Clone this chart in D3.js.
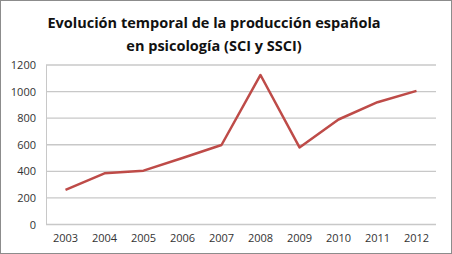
<!DOCTYPE html>
<html>
<head>
<meta charset="utf-8">
<script src="https://cdn.jsdelivr.net/npm/d3@7"></script>
<style>
  body { margin: 0; background: #fff; }
  svg { display: block; font-family: "Open Sans", "DejaVu Sans", sans-serif; }
</style>
</head>
<body>
<svg id="chart" width="452" height="254"></svg>
<script>
const years = ['2003', '2004', '2005', '2006', '2007', '2008', '2009', '2010', '2011', '2012']
const produccion = [260, 385, 405, 500, 598, 1125, 580, 790, 920, 1005]
const yTicks = [0, 200, 400, 600, 800, 1000, 1200]
const titleLines = ['Evolución temporal de la producción española', 'en psicología (SCI y SSCI)']

const svg = d3.select('#chart')

// marco exterior
svg.append('rect').attr('x', 0.5).attr('y', 0.5).attr('width', 451).attr('height', 253)
  .attr('fill', '#fff').attr('stroke', '#8c8c8c')

const xScale = d3.scaleBand().domain(years).range([46, 436])
const yScale = d3.scaleLinear().domain([0, 1200]).range([224.5, 65])

// rejilla
svg.append('g').selectAll('line').data(yTicks).enter().append('line')
  .attr('x1', 46).attr('x2', 436)
  .attr('y1', d => yScale(d)).attr('y2', d => yScale(d))
  .attr('stroke', '#c8c8c8').attr('stroke-width', 1.3)

// eje vertical
svg.append('line').attr('x1', 46.5).attr('x2', 46.5).attr('y1', yScale(1200)).attr('y2', yScale(0))
  .attr('stroke', '#c8c8c8').attr('stroke-width', 1)

const yAxis = d3.axisLeft(yScale).tickValues(yTicks).tickFormat(d3.format('d')).tickSize(0).tickPadding(10)
const yAxisGroup = svg.append('g').attr('transform', 'translate(46,0)').call(yAxis)
yAxisGroup.select('.domain').remove()
yAxisGroup.selectAll('text').attr('font-size', 11).attr('fill', '#333')
  .style('font-family', '"Open Sans", sans-serif')

const xAxis = d3.axisBottom(xScale).tickSize(0).tickPadding(10)
const xAxisGroup = svg.append('g').attr('transform', `translate(0,${yScale(0)})`).call(xAxis)
xAxisGroup.select('.domain').remove()
xAxisGroup.selectAll('text').attr('font-size', 11).attr('fill', '#333')
  .style('font-family', '"Open Sans", sans-serif')

// título
svg.append('g').selectAll('text').data(titleLines).enter().append('text')
  .attr('x', 214).attr('y', (d, i) => 28 + i * 23)
  .attr('text-anchor', 'middle')
  .attr('font-size', 14.5).attr('font-weight', 'bold').attr('fill', '#111')
  .text(d => d)

// serie
const line = d3.line()
  .x((d, i) => xScale(years[i]) + xScale.bandwidth() / 2)
  .y(d => yScale(d))
svg.append('path').datum(produccion)
  .attr('fill', 'none').attr('stroke', '#be4b48').attr('stroke-width', 2.5)
  .attr('stroke-linejoin', 'round')
  .attr('d', line)
</script>
</body>
</html>
